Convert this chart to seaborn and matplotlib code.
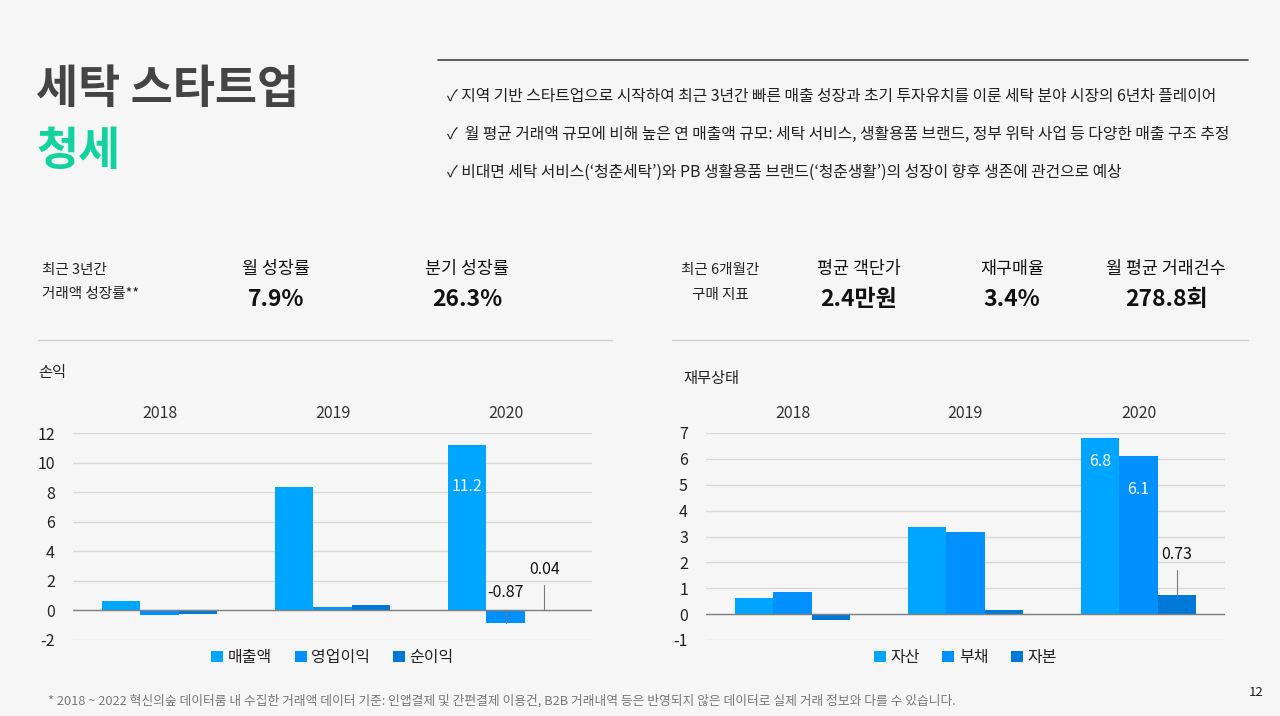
import numpy as np
import pandas as pd
import matplotlib
matplotlib.use('Agg')
from matplotlib import pyplot as plt
import seaborn as sns

years = ['2018', '2019', '2020']

# 손익 (억원)
pl_series = ['매출액', '영업이익', '순이익']
sales = [0.62, 8.38, 11.2]
op_profit = [-0.34, 0.2, -0.87]
net_profit = [-0.27, 0.34, 0.04]

# 재무상태 (억원)
bs_series = ['자산', '부채', '자본']
assets = [0.62, 3.38, 6.8]
debt = [0.84, 3.19, 6.1]
equity = [-0.23, 0.16, 0.73]

colors = ['#00A5FF', '#0090FF', '#0078D7']
bg = '#F6F6F6'

sns.set_theme(style='white')
plt.rcParams['font.family'] = ['Noto Sans CJK KR', 'DejaVu Sans']
plt.rcParams['axes.unicode_minus'] = False

fig = plt.figure(figsize=(12.8, 7.16), dpi=100)
fig.patch.set_facecolor(bg)

#%% header
fig.text(36/1280, 1-90/716, '세탁 스타트업', fontsize=33, fontweight='black', color='#444444', va='center')
fig.text(36/1280, 1-152/716, '청세', fontsize=33, fontweight='black', color='#12D3A0', va='center')
fig.add_artist(plt.Line2D([438/1280, 1248/1280], [1-60/716, 1-60/716], color='#444444', lw=1.2))

bullets = ['✓ 지역 기반 스타트업으로 시작하여 최근 3년간 빠른 매출 성장과 초기 투자유치를 이룬 세탁 분야 시장의 6년차 플레이어',
           '✓  월 평균 거래액 규모에 비해 높은 연 매출액 규모: 세탁 서비스, 생활용품 브랜드, 정부 위탁 사업 등 다양한 매출 구조 추정',
           '✓ 비대면 세탁 서비스(‘청춘세탁’)와 PB 생활용품 브랜드(‘청춘생활’)의 성장이 향후 생존에 관건으로 예상']
for i, b in enumerate(bullets):
    fig.text(447/1280, 1-(97 + 37.5*i)/716, b, fontsize=11.4, color='#222222', va='center')

#%% KPI row
kpi_small = '#222222'
fig.text(42/1280, 1-270/716, '최근 3년간', fontsize=10.5, color=kpi_small, va='center')
fig.text(42/1280, 1-294/716, '거래액 성장률**', fontsize=10.5, color=kpi_small, va='center')
left_kpis = [(276, '월 성장률', '7.9%'), (467, '분기 성장률', '26.3%')]
fig.text(720/1280, 1-270/716, '최근 6개월간', fontsize=10.5, color=kpi_small, va='center', ha='center')
fig.text(720/1280, 1-295/716, '구매 지표', fontsize=10.5, color=kpi_small, va='center', ha='center')
right_kpis = [(859, '평균 객단가', '2.4만원'), (1012, '재구매율', '3.4%'), (1166, '월 평균 거래건수', '278.8회')]
for x, lab, val in left_kpis + right_kpis:
    fig.text(x/1280, 1-269/716, lab, fontsize=12.5, color='#111111', va='center', ha='center')
    fig.text(x/1280, 1-300/716, val, fontsize=16.5, fontweight='black', color='#111111', va='center', ha='center')

for x0, x1 in [(38, 612), (672, 1248)]:
    fig.add_artist(plt.Line2D([x0/1280, x1/1280], [1-340/716, 1-340/716], color='#D0D0D0', lw=1))

fig.text(38/1280, 1-373/716, '손익', fontsize=11, color='#222222', va='center')
fig.text(683/1280, 1-378/716, '재무상태', fontsize=11, color='#222222', va='center')


#%% charts
def draw_bars(ax, series, values, ylim, yticks):
    df = pd.DataFrame({'year': np.repeat(years, len(series)),
                       'series': series * len(years),
                       'value': np.array(values).T.ravel()})
    sns.barplot(data=df, x='year', y='value', hue='series', hue_order=series, order=years,
                palette=colors, saturation=1, width=0.67, ax=ax, errorbar=None, linewidth=0)
    ax.set_facecolor(bg)
    ax.set_xlim(-0.5, 2.5)
    ax.set_ylim(*ylim)
    ax.set_yticks(yticks)
    ax.yaxis.grid(True, color='#D8D8D8', lw=1)
    ax.set_axisbelow(True)
    ax.axhline(0, color='#808080', lw=1, zorder=1.5)
    for s in ax.spines.values():
        s.set_visible(False)
    ax.xaxis.tick_top()
    ax.tick_params(axis='x', length=0, pad=8, labelsize=11.5, labelcolor='#333333')
    ax.tick_params(axis='y', length=0, pad=13, labelsize=11.5, labelcolor='#222222')
    ax.set_xlabel('')
    ax.set_ylabel('')
    ax.legend(loc='upper center', bbox_to_anchor=(0.5, 0.025), ncol=3, frameon=False,
              handlelength=0.75, handleheight=0.75, handletextpad=0.3, columnspacing=1.4,
              fontsize=11.5, labelcolor='#222222')


offset = 0.67 / 3

ax1 = fig.add_axes([73/1280, 1-640/716, 519/1280, 207/716])
draw_bars(ax1, pl_series, [sales, op_profit, net_profit], (-2, 12), np.arange(-2, 13, 2))
ax1.text(2 - offset, sales[2] - 2.85, '{}'.format(sales[2]), color='white', ha='center', va='center', fontsize=11.5)
ax1.text(2, 1.2, '{}'.format(op_profit[2]), color='#111111', ha='center', va='center', fontsize=11.5)
ax1.plot([2, 2], [0, op_profit[2]], color='#7a7a7a', lw=0.8)
ax1.text(2 + offset, 2.8, '{}'.format(net_profit[2]), color='#111111', ha='center', va='center', fontsize=11.5)
ax1.plot([2 + offset, 2 + offset], [1.75, net_profit[2]], color='#7a7a7a', lw=0.8)

ax2 = fig.add_axes([706/1280, 1-640/716, 519/1280, 207/716])
draw_bars(ax2, bs_series, [assets, debt, equity], (-1, 7), np.arange(-1, 8, 1))
ax2.text(2 - offset, assets[2] - 0.9, '{}'.format(assets[2]), color='white', ha='center', va='center', fontsize=11.5)
ax2.text(2, debt[2] - 1.3, '{}'.format(debt[2]), color='white', ha='center', va='center', fontsize=11.5)
ax2.text(2 + offset, 2.3, '{}'.format(equity[2]), color='#111111', ha='center', va='center', fontsize=11.5)
ax2.plot([2 + offset, 2 + offset], [1.7, equity[2]], color='#7a7a7a', lw=0.8)

#%% footer
fig.text(48/1280, 1-701/716, '* 2018 ~ 2022 혁신의숲 데이터룸 내 수집한 거래액 데이터 기준: 인앱결제 및 간편결제 이용건, B2B 거래내역 등은 반영되지 않은 데이터로 실제 거래 정보와 다를 수 있습니다.',
         fontsize=9.2, color='#777777', va='center')
fig.text(1256/1280, 1-693/716, '12', fontsize=9.5, color='#222222', va='center', ha='center')

fig.savefig('out.png', dpi=100, facecolor=bg)
